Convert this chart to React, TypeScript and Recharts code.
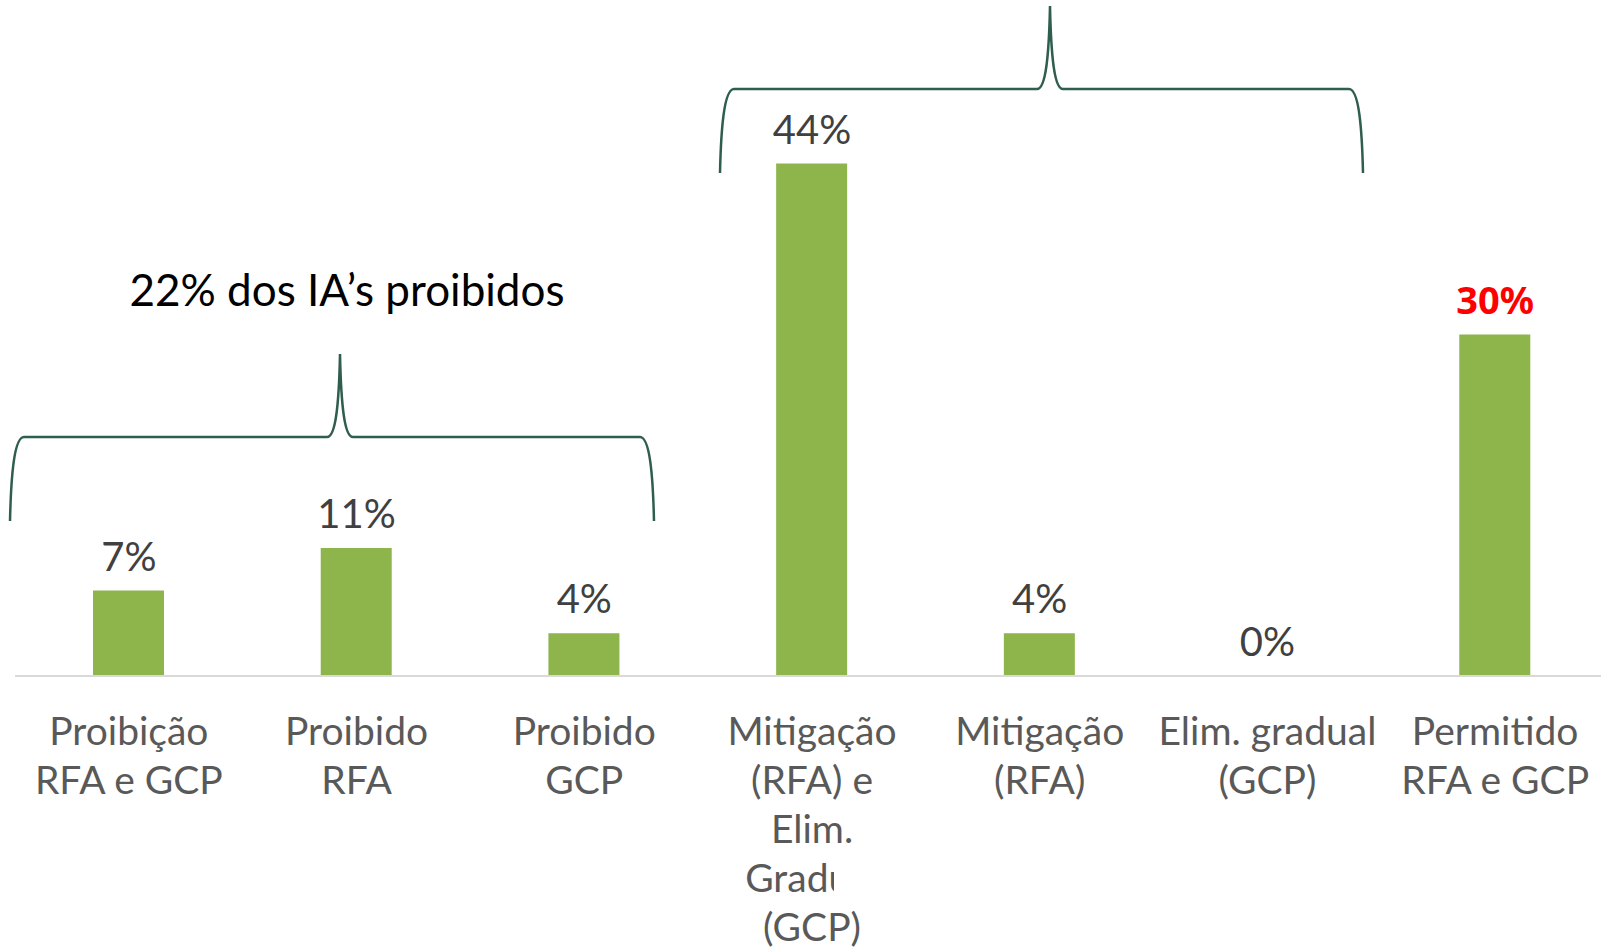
import React from 'react';
import { ComposedChart, Bar, Line, XAxis, YAxis, LabelList } from 'recharts';

// categories (line breaks as in the slide)
const categories = [
  'Proibição\nRFA e GCP',
  'Proibido\nRFA',
  'Proibido\nGCP',
  'Mitigação\n(RFA) e\nElim.\nGradual\n(GCP)',
  'Mitigação\n(RFA)',
  'Elim. gradual\n(GCP)',
  'Permitido\nRFA e GCP',
];
// share of IAs per group (27 in total -> 2, 3, 1, 12, 1, 0, 8)
const shares = [0.074, 0.111, 0.037, 0.444, 0.037, 0, 0.296];
const shareLabels = ['7%', '11%', '4%', '44%', '4%', '0%', '30%'];
const groupTitle = '22% dos IA’s proibidos';

const highlightIndex = 6;
const FONT = 'Lato, "Gill Sans", sans-serif';

const data = categories.map((name, i) => ({ name, share: shares[i], label: shareLabels[i] }));

const CategoryTick = (props: any) => {
  const { x, y, payload } = props;
  const lines = String(payload.value).split('\n');
  return (
    <text
      x={x}
      y={y + 54}
      textAnchor="middle"
      dominantBaseline="central"
      fill="#595959"
      fontSize={39}
      fontFamily={FONT}
    >
      {lines.map((l, i) => (
        <tspan key={i} x={x} dy={i === 0 ? 0 : 49}>
          {l}
        </tspan>
      ))}
    </text>
  );
};

// labels sit on the (invisible) line points so the 0% one is drawn too
const renderLabel = (props: any) => {
  const { x, y, value } = props;
  const hot = value === shareLabels[highlightIndex];
  return (
    <text
      x={x}
      y={y - 35}
      textAnchor="middle"
      dominantBaseline="central"
      fill={hot ? '#FF0000' : '#404040'}
      fontSize={hot ? 38 : 40}
      fontWeight={hot ? 700 : 400}
      fontFamily={hot ? '"Noto Sans", sans-serif' : FONT}
    >
      {value}
    </text>
  );
};

// curly brace opening downwards
const bracePath = (x1: number, x2: number, tipX: number, yBar: number, yEnd: number, tipY: number) => {
  return [
    `M ${x1} ${yEnd}`,
    `C ${x1 + 1} ${yBar + 40}, ${x1 + 4} ${yBar}, ${x1 + 14} ${yBar}`,
    `L ${tipX - 13} ${yBar}`,
    `C ${tipX - 4} ${yBar}, ${tipX - 1} ${yBar - 35}, ${tipX} ${tipY}`,
    `C ${tipX + 1} ${yBar - 35}, ${tipX + 4} ${yBar}, ${tipX + 13} ${yBar}`,
    `L ${x2 - 14} ${yBar}`,
    `C ${x2 - 4} ${yBar}, ${x2 - 1} ${yBar + 40}, ${x2} ${yEnd}`,
  ].join(' ');
};

export default function App() {
  return (
    <div style={{ position: 'absolute', left: 0, top: 0, width: 1601, height: 952, overflow: 'hidden', background: '#fff' }}>
      <ComposedChart
        width={1620}
        height={952}
        data={data}
        margin={{ top: 99, right: 11, bottom: 26, left: 15 }}
        barSize={71}
      >
        <XAxis
          dataKey="name"
          height={250}
          interval={0}
          tickLine={false}
          tickSize={0}
          tickMargin={0}
          axisLine={{ stroke: '#D9D9D9', strokeWidth: 2 }}
          tick={<CategoryTick />}
        />
        <YAxis hide domain={[0, 0.5]} />
        <Bar dataKey="share" fill="#8DB54C" isAnimationActive={false} />
        <Line
          dataKey="share"
          stroke="none"
          dot={false}
          activeDot={false}
          legendType="none"
          isAnimationActive={false}
        >
          <LabelList dataKey="label" content={renderLabel} />
        </Line>
      </ComposedChart>
      <svg
        width={1601}
        height={952}
        style={{ position: 'absolute', left: 0, top: 0, pointerEvents: 'none' }}
      >
        <path d={bracePath(10, 654, 340, 437, 521, 354)} fill="none" stroke="#2F5E4E" strokeWidth={2.5} />
        <path d={bracePath(720, 1363, 1050, 89, 173, 6)} fill="none" stroke="#2F5E4E" strokeWidth={2.5} />
        <text x={347} y={289} textAnchor="middle" dominantBaseline="central" fontSize={44} fontFamily={FONT} fill="#000">
          {groupTitle}
        </text>
        {/* white box hiding the end of "Gradual", as on the slide */}
        <rect x={834} y={855} width={48} height={45} fill="#fff" />
      </svg>
    </div>
  );
}
